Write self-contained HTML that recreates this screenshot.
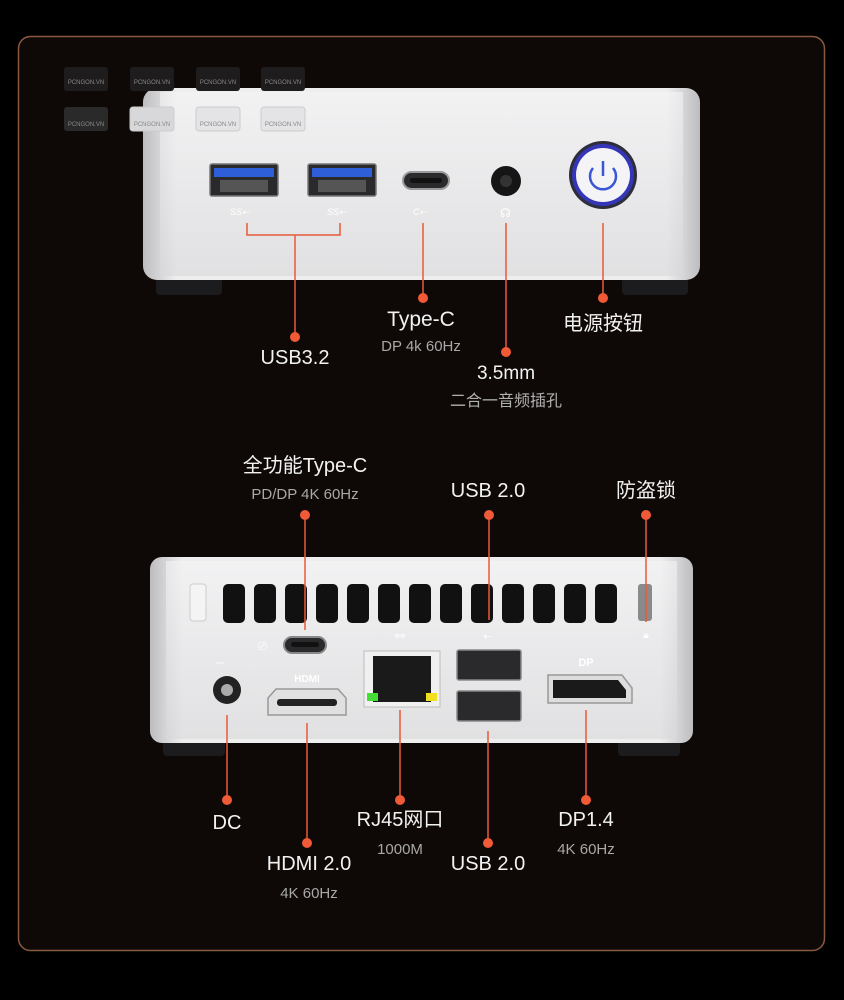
<!DOCTYPE html>
<html><head><meta charset="utf-8"><style>
html,body{margin:0;padding:0;background:#000;}
svg{display:block;}
text{font-family:"Liberation Sans","Noto Sans CJK SC",sans-serif;}
</style></head><body>
<svg width="844" height="1000" viewBox="0 0 844 1000" xmlns="http://www.w3.org/2000/svg">
<defs>
<linearGradient id="dev" x1="0" y1="0" x2="0" y2="1">
<stop offset="0" stop-color="#f4f4f5"/><stop offset="0.5" stop-color="#e6e6e8"/><stop offset="1" stop-color="#d8d8da"/>
</linearGradient>
<linearGradient id="side" x1="0" y1="0" x2="1" y2="0">
<stop offset="0" stop-color="#bdbdc0"/><stop offset="0.06" stop-color="#eeeeef"/><stop offset="0.94" stop-color="#eeeeef"/><stop offset="1" stop-color="#bdbdc0"/>
</linearGradient>
</defs>
<rect width="844" height="1000" fill="#000"/>
<rect x="18.5" y="36.5" width="806" height="914" rx="12" fill="#0e0907" stroke="#8a5a40" stroke-width="1.5"/>

<!-- TOP DEVICE -->
<rect x="156" y="276" width="66" height="19" rx="4" fill="#1c1c1e"/>
<rect x="622" y="276" width="66" height="19" rx="4" fill="#1c1c1e"/>
<rect x="143" y="88" width="557" height="192" rx="14" fill="url(#side)"/>
<rect x="160" y="92" width="523" height="184" fill="url(#dev)" opacity="0.6"/>
<!-- watermarks -->
<g font-size="6" fill="#888" text-anchor="middle">
<rect x="64" y="67" width="44" height="24" rx="3" fill="#1e1c1c"/><rect x="130" y="67" width="44" height="24" rx="3" fill="#1e1c1c"/>
<rect x="196" y="67" width="44" height="24" rx="3" fill="#1e1c1c"/><rect x="261" y="67" width="44" height="24" rx="3" fill="#1e1c1c"/>
<text x="86" y="84">PCNGON.VN</text><text x="152" y="84">PCNGON.VN</text><text x="218" y="84">PCNGON.VN</text><text x="283" y="84">PCNGON.VN</text>
<rect x="64" y="107" width="44" height="24" rx="3" fill="#2a2a2a"/><rect x="130" y="107" width="44" height="24" rx="3" fill="#d8d8da" stroke="#ccc"/>
<rect x="196" y="107" width="44" height="24" rx="3" fill="#e4e4e6" stroke="#ccc"/><rect x="261" y="107" width="44" height="24" rx="3" fill="#e4e4e6" stroke="#ccc"/>
<text x="86" y="126">PCNGON.VN</text><text x="152" y="126">PCNGON.VN</text><text x="218" y="126">PCNGON.VN</text><text x="283" y="126">PCNGON.VN</text>
</g>
<!-- USB3 ports -->
<g>
<rect x="210" y="164" width="68" height="32" rx="2" fill="#2a2a2c" stroke="#777" stroke-width="1.5"/>
<rect x="214" y="168" width="60" height="9" fill="#2f5fd8"/>
<rect x="220" y="180" width="48" height="12" fill="#555"/>
<rect x="308" y="164" width="68" height="32" rx="2" fill="#2a2a2c" stroke="#777" stroke-width="1.5"/>
<rect x="312" y="168" width="60" height="9" fill="#2f5fd8"/>
<rect x="318" y="180" width="48" height="12" fill="#555"/>
<text x="230" y="215" font-size="9" fill="#fff" font-style="italic">SS⇠</text>
<text x="327" y="215" font-size="9" fill="#fff" font-style="italic">SS⇠</text>
<rect x="403" y="172" width="46" height="17" rx="8.5" fill="#2a2a2c" stroke="#999" stroke-width="2"/>
<rect x="410" y="178" width="32" height="5" rx="2.5" fill="#111"/>
<text x="413" y="215" font-size="9" fill="#fff" font-style="italic">C⇠</text>
<circle cx="506" cy="181" r="15" fill="#151515"/><circle cx="506" cy="181" r="6" fill="#333"/>
<text x="500" y="217" font-size="12" fill="#fff">☊</text>
<circle cx="603" cy="175" r="34" fill="#2e2e3a"/>
<circle cx="603" cy="175" r="31" fill="#3535b8"/>
<circle cx="603" cy="175" r="27" fill="#f4f4f6"/>
<path d="M593 168 A13 13 0 1 0 613 168" fill="none" stroke="#3a55d8" stroke-width="2.5"/>
<line x1="603" y1="161" x2="603" y2="176" stroke="#3a55d8" stroke-width="2.5"/>
</g>
<!-- top connectors -->
<g stroke="#e85a3a" stroke-width="1.5" fill="none">
<path d="M247 223 V235 H340 V223"/>
<line x1="295" y1="235" x2="295" y2="337"/>
<line x1="423" y1="223" x2="423" y2="298"/>
<line x1="506" y1="223" x2="506" y2="352"/>
<line x1="603" y1="223" x2="603" y2="298"/>
</g>
<g fill="#f05a36">
<circle cx="295" cy="337" r="5"/><circle cx="423" cy="298" r="5"/><circle cx="506" cy="352" r="5"/><circle cx="603" cy="298" r="5"/>
</g>
<g text-anchor="middle">
<text x="295" y="364" font-size="20" fill="#f2f2f2">USB3.2</text>
<text x="421" y="326" font-size="21" fill="#f2f2f2">Type-C</text>
<text x="421" y="351" font-size="15" fill="#a8a8a8">DP 4k 60Hz</text>
<text x="506" y="379" font-size="19" fill="#f2f2f2">3.5mm</text>
<text x="506" y="406" font-size="16" fill="#b0b0b0">二合一音频插孔</text>
<text x="603" y="330" font-size="20" fill="#f2f2f2">电源按钮</text>

<text x="305" y="472" font-size="20" fill="#f2f2f2">全功能Type-C</text>
<text x="305" y="499" font-size="15" fill="#a8a8a8">PD/DP 4K 60Hz</text>
<text x="488" y="497" font-size="20" fill="#f2f2f2">USB 2.0</text>
<text x="646" y="497" font-size="20" fill="#f2f2f2">防盗锁</text>

<text x="227" y="829" font-size="20" fill="#f2f2f2">DC</text>
<text x="309" y="870" font-size="20" fill="#f2f2f2">HDMI 2.0</text>
<text x="309" y="898" font-size="15" fill="#a8a8a8">4K 60Hz</text>
<text x="400" y="826" font-size="20" fill="#f2f2f2">RJ45网口</text>
<text x="400" y="854" font-size="15" fill="#a8a8a8">1000M</text>
<text x="488" y="870" font-size="20" fill="#f2f2f2">USB 2.0</text>
<text x="586" y="826" font-size="20" fill="#f2f2f2">DP1.4</text>
<text x="586" y="854" font-size="15" fill="#a8a8a8">4K 60Hz</text>
</g>

<!-- BOTTOM DEVICE -->
<rect x="163" y="738" width="62" height="18" rx="4" fill="#1c1c1e"/>
<rect x="618" y="738" width="62" height="18" rx="4" fill="#1c1c1e"/>
<rect x="150" y="557" width="543" height="186" rx="12" fill="url(#side)"/>
<rect x="166" y="561" width="511" height="178" fill="url(#dev)" opacity="0.6"/>
<rect x="190" y="584" width="16" height="37" rx="3" fill="#f4f4f4" stroke="#ccc"/>
<rect x="638" y="584" width="14" height="37" rx="3" fill="#8a8a8a"/>
<g fill="#111">
<rect x="223" y="584" width="22" height="39" rx="5"/><rect x="254" y="584" width="22" height="39" rx="5"/>
<rect x="285" y="584" width="22" height="39" rx="5"/><rect x="316" y="584" width="22" height="39" rx="5"/>
<rect x="347" y="584" width="22" height="39" rx="5"/><rect x="378" y="584" width="22" height="39" rx="5"/>
<rect x="409" y="584" width="22" height="39" rx="5"/><rect x="440" y="584" width="22" height="39" rx="5"/>
<rect x="471" y="584" width="22" height="39" rx="5"/><rect x="502" y="584" width="22" height="39" rx="5"/>
<rect x="533" y="584" width="22" height="39" rx="5"/><rect x="564" y="584" width="22" height="39" rx="5"/>
<rect x="595" y="584" width="22" height="39" rx="5"/>
</g>
<!-- ports -->
<rect x="284" y="637" width="42" height="16" rx="8" fill="#2a2a2c" stroke="#888" stroke-width="2"/>
<rect x="291" y="642" width="28" height="5" rx="2.5" fill="#111"/>
<text x="258" y="650" font-size="11" fill="#fff">⎚</text>
<text x="216" y="666" font-size="10" fill="#fff">⎓</text>
<circle cx="227" cy="690" r="14" fill="#222"/><circle cx="227" cy="690" r="6" fill="#aaa"/>
<text x="307" y="682" font-size="10" fill="#fff" text-anchor="middle" font-weight="bold">HDMI</text>
<path d="M268 698 L276 689 H338 L346 698 V715 H268 Z" fill="#e0e0e0" stroke="#999" stroke-width="1.5"/>
<rect x="277" y="699" width="60" height="7" rx="3" fill="#222"/>
<text x="400" y="640" font-size="12" fill="#fff" text-anchor="middle">⚯</text>
<rect x="364" y="651" width="76" height="56" fill="#f0f0f0" stroke="#bbb"/>
<rect x="373" y="656" width="58" height="46" fill="#1a1a1a"/>
<rect x="367" y="693" width="11" height="8" fill="#44dd33"/><rect x="426" y="693" width="11" height="8" fill="#f0e020"/>
<text x="488" y="640" font-size="11" fill="#fff" text-anchor="middle">⇠</text>
<rect x="457" y="650" width="64" height="30" rx="2" fill="#2a2a2c" stroke="#888" stroke-width="1.5"/>
<rect x="457" y="691" width="64" height="30" rx="2" fill="#2a2a2c" stroke="#888" stroke-width="1.5"/>
<text x="586" y="666" font-size="11" fill="#fff" text-anchor="middle" font-weight="bold">DP</text>
<path d="M548 675 H622 L632 688 V703 H548 Z" fill="#ddd" stroke="#999" stroke-width="1.5"/>
<path d="M553 680 H618 L626 690 V698 H553 Z" fill="#1a1a1a"/>
<text x="646" y="638" font-size="10" fill="#fff" text-anchor="middle">🔒︎</text>

<g stroke="#e85a3a" stroke-width="1.5" fill="none">
<line x1="305" y1="515" x2="305" y2="630"/>
<line x1="489" y1="515" x2="489" y2="620"/>
<line x1="646" y1="515" x2="646" y2="622"/>
<line x1="227" y1="715" x2="227" y2="800"/>
<line x1="307" y1="723" x2="307" y2="843"/>
<line x1="400" y1="710" x2="400" y2="800"/>
<line x1="488" y1="731" x2="488" y2="843"/>
<line x1="586" y1="710" x2="586" y2="800"/>
</g>
<g fill="#f05a36">
<circle cx="305" cy="515" r="5"/><circle cx="489" cy="515" r="5"/><circle cx="646" cy="515" r="5"/>
<circle cx="227" cy="800" r="5"/><circle cx="307" cy="843" r="5"/><circle cx="400" cy="800" r="5"/>
<circle cx="488" cy="843" r="5"/><circle cx="586" cy="800" r="5"/>
</g>
</svg>
</body></html>
